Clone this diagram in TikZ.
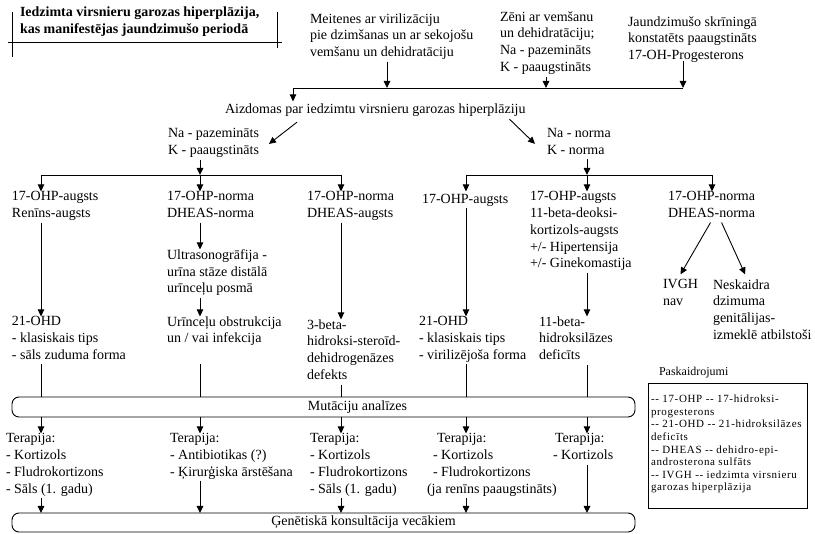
\documentclass[tikz,border=0pt]{standalone}
\usepackage{fontspec}
\setmainfont{Liberation Serif}
\newfontfamily\legfont[LetterSpace=6]{Liberation Serif}
\usetikzlibrary{arrows.meta,calc}
\begin{document}
\begin{tikzpicture}[x=1pt,y=-1pt,
  every node/.style={inner sep=0pt, outer sep=0pt},
  mainfont/.style={font=\fontsize{14}{16.8}\selectfont},
  txt/.style={anchor=north west, align=left, mainfont, execute at begin node=\strut, execute at end node=\strut},
  ttl/.style={txt, font=\fontsize{14}{17}\selectfont\bfseries},
  ln/.style={line width=0.9pt},
  arr/.style={ln, -{Triangle[length=7pt,width=6.5pt]}},
  rbox/.style={draw, line width=0.9pt, rounded corners=7pt, minimum width=623pt},
  legtxt/.style={anchor=north west, align=left, font=\legfont\fontsize{11}{12.6}\selectfont, execute at begin node=\strut, execute at end node=\strut},
]
\useasboundingbox[fill=white] (0,0) rectangle (815,534);

% title
\node[ttl] (title) at (20,6.4) {Iedzimta virsnieru garozas hiperplāzija,\\kas manifestējas jaundzimušo periodā};
\draw[ln] (12,12) -- (12,57);
\draw[ln] (277,12) -- (277,48);
\draw[ln] (8,42) -- (282,42);

% top sources
\node[txt] (t1) at (310,13.4) {Meitenes ar virilizāciju\\pie dzimšanas un ar sekojošu\\vemšanu un dehidratāciju};
\node[txt] (t2) at (500,11.4) {Zēni ar vemšanu\\un dehidratāciju;\\Na - pazemināts\\K - paaugstināts};
\node[txt] (t3) at (628,16.4) {Jaundzimušo skrīningā\\konstatēts paaugstināts\\17-OH-Progesterons};

\coordinate (J1) at (293,88);
\coordinate (J2) at (683,88);
\coordinate (XA) at (387,0);
\coordinate (XB) at (546,0);
\coordinate (XC) at (683,0);

\node[txt] (aiz) at (225,101.4) {Aizdomas par iedzimtu virsnieru garozas hiperplāziju};

\draw[ln] (J1) -- (J2);
\draw[arr] (XA |- t1.south) -- (XA |- J1);
\draw[arr] (XB |- t2.south) -- (XB |- J1);
\draw[arr] ([yshift=4pt]XC |- t3.south) -- (XC |- J1);
\draw[arr] (J1) -- (J1 |- aiz.north);

\node[txt] (naL) at (168,128.4) {Na - pazemināts\\K - paaugstināts};
\node[txt] (naR) at (547,128.4) {Na - norma\\K - norma};

\draw[arr] ([xshift=72pt,yshift=-4pt]aiz.south west) -- ([xshift=10pt]naL.east);
\draw[arr] ([xshift=-16pt,yshift=-1pt]aiz.south east) -- ([xshift=-12pt]naR.west);

% column x positions
\coordinate (X1) at (41,175);
\coordinate (X2) at (200,175);
\coordinate (X3) at (341,175);
\coordinate (X4) at (466,175);
\coordinate (X5) at (587,175);
\coordinate (X6) at (712,175);

\draw[ln] (X1) -- (X3);
\draw[ln] (X4) -- (X6);
\draw[arr] (X2 |- naL.south) -- (X2);
\draw[arr] (X5 |- naR.south) -- (X5);

% row 1
\node[txt] (r1c1) at (12,191.4) {17-OHP-augsts\\Renīns-augsts};
\node[txt] (r1c2) at (167,191.4) {17-OHP-norma\\DHEAS-norma};
\node[txt] (r1c3) at (307,191.4) {17-OHP-norma\\DHEAS-augsts};
\node[txt] (r1c4) at (422,191.4) {17-OHP-augsts};
\node[txt] (r1c5) at (530,191.4) {17-OHP-augsts\\11-beta-deoksi-\\kortizols-augsts\\+/- Hipertensija\\+/- Ginekomastija};
\node[txt] (r1c6) at (668,191.4) {17-OHP-norma\\DHEAS-norma};

\draw[arr] (X1) -- (X1 |- r1c1.north);
\draw[arr] (X2) -- (X2 |- r1c2.north);
\draw[arr] (X3) -- (X3 |- r1c3.north);
\draw[arr] (X4) -- (X4 |- r1c4.north);
\draw[arr] (X5) -- (X5 |- r1c5.north);
\draw[arr] (X6) -- (X6 |- r1c6.north);

% middle
\node[txt] (us) at (167,249.4) {Ultrasonogrāfija -\\urīna stāze distālā\\urīnceļu posmā};
\node[txt] (ivgh) at (663,279.4) {IVGH\\nav};
\node[txt] (nesk) at (713,279.4) {Neskaidra\\dzimuma\\genitālijas-\\izmeklē atbilstoši};

% row 3
\node[txt] (r3c1) at (12,316.4) {21-OHD\\- klasiskais tips\\- sāls zuduma forma};
\node[txt] (r3c2) at (167,316.4) {Urīnceļu obstrukcija\\un / vai infekcija};
\node[txt] (r3c3) at (307,319.4) {3-beta-\\hidroksi-steroīd-\\dehidrogenāzes\\defekts};
\node[txt] (r3c4) at (419,316.4) {21-OHD\\- klasiskais tips\\- virilizējoša forma};
\node[txt] (r3c5) at (539,316.4) {11-beta-\\hidroksilāzes\\deficīts};

\draw[arr] (X1 |- r1c1.south) -- (X1 |- r3c1.north);
\draw[arr] (X2 |- r1c2.south) -- (X2 |- us.north);
\draw[arr] (X2 |- us.south) -- (X2 |- r3c2.north);
\draw[arr] (X3 |- r1c3.south) -- (X3 |- r3c3.north);
\draw[arr] (X4 |- r1c4.south) -- (X4 |- r3c4.north);
\draw[arr] (X5 |- r1c5.south) -- (X5 |- r3c5.north);
\draw[arr] ([xshift=-1pt]r1c6.south) -- ([yshift=5pt]ivgh.north);
\draw[arr] ([xshift=10pt]r1c6.south) -- ([xshift=-17pt,yshift=5pt]nesk.north);

% mutation box
\node[rbox, minimum height=20pt, label={[mainfont,xshift=34pt]center:Mutāciju analīzes}] (mut) at (323.5,407) {};

\draw[ln] (X1 |- r3c1.south) -- (X1 |- mut.north);
\draw[ln] (X2 |- r3c1.south) -- (X2 |- mut.north);
\draw[ln] (X3 |- r3c3.south) -- (X3 |- mut.north);
\draw[ln] (X4 |- r3c4.south) -- (X4 |- mut.north);
\draw[ln] (X5 |- r3c5.south) -- (X5 |- mut.north);

% therapy
\node[txt] (ter1) at (6,433.4) {Terapija:\\- Kortizols\\- Fludrokortizons\\- Sāls (1. gadu)};
\node[txt] (ter2) at (170,433.4) {Terapija:\\- Antibiotikas (?)\\- Ķirurģiska ārstēšana};
\node[txt] (ter3) at (310,433.4) {Terapija:\\- Kortizols\\- Fludrokortizons\\- Sāls (1. gadu)};
\node[txt] (ter4) at (427,433.4) {\hspace*{10pt}Terapija:\\\hspace*{6pt}- Kortizols\\\hspace*{6pt}- Fludrokortizons\\(ja renīns paaugstināts)};
\node[txt] (ter5) at (553,433.4) {\hspace*{2pt}Terapija:\\- Kortizols};

\draw[arr] (X1 |- mut.south) -- (X1 |- ter1.north);
\draw[arr] (X2 |- mut.south) -- (X2 |- ter2.north);
\draw[arr] (X3 |- mut.south) -- (X3 |- ter3.north);
\draw[arr] (X4 |- mut.south) -- (X4 |- ter4.north);
\draw[arr] (X5 |- mut.south) -- (X5 |- ter5.north);

% genetic box
\node[rbox, minimum height=19pt, label={[mainfont,xshift=40pt]center:Ģenētiskā konsultācija vecākiem}] (gen) at (323.5,522.5) {};

\draw[arr] (X1 |- ter1.south) -- (X1 |- gen.north);
\draw[arr] (X2 |- ter2.south) -- (X2 |- gen.north);
\draw[arr] (X3 |- ter3.south) -- (X3 |- gen.north);
\draw[arr] (X4 |- ter4.south) -- (X4 |- gen.north);
\draw[arr] (X5 |- ter5.south) -- (X5 |- gen.north);

% legend
\node[anchor=north west, align=left, font=\fontsize{12}{12}\selectfont] (legttl) at (659,367) {Paskaidrojumi};
\node[draw, line width=0.9pt, anchor=north west, minimum width=159pt, minimum height=125pt] (legbox) at (648,383) {};
\node[legtxt] (legtext) at ([xshift=3pt,yshift=-12pt]legbox.north west) {-{}- 17-OHP -{}- 17-hidroksi-\\progesterons\\-{}- 21-OHD -{}- 21-hidroksilāzes\\deficīts\\-{}- DHEAS -{}- dehidro-epi-\\androsterona sulfāts\\-{}- IVGH -{}- iedzimta virsnieru\\garozas hiperplāzija};
\end{tikzpicture}
\end{document}
